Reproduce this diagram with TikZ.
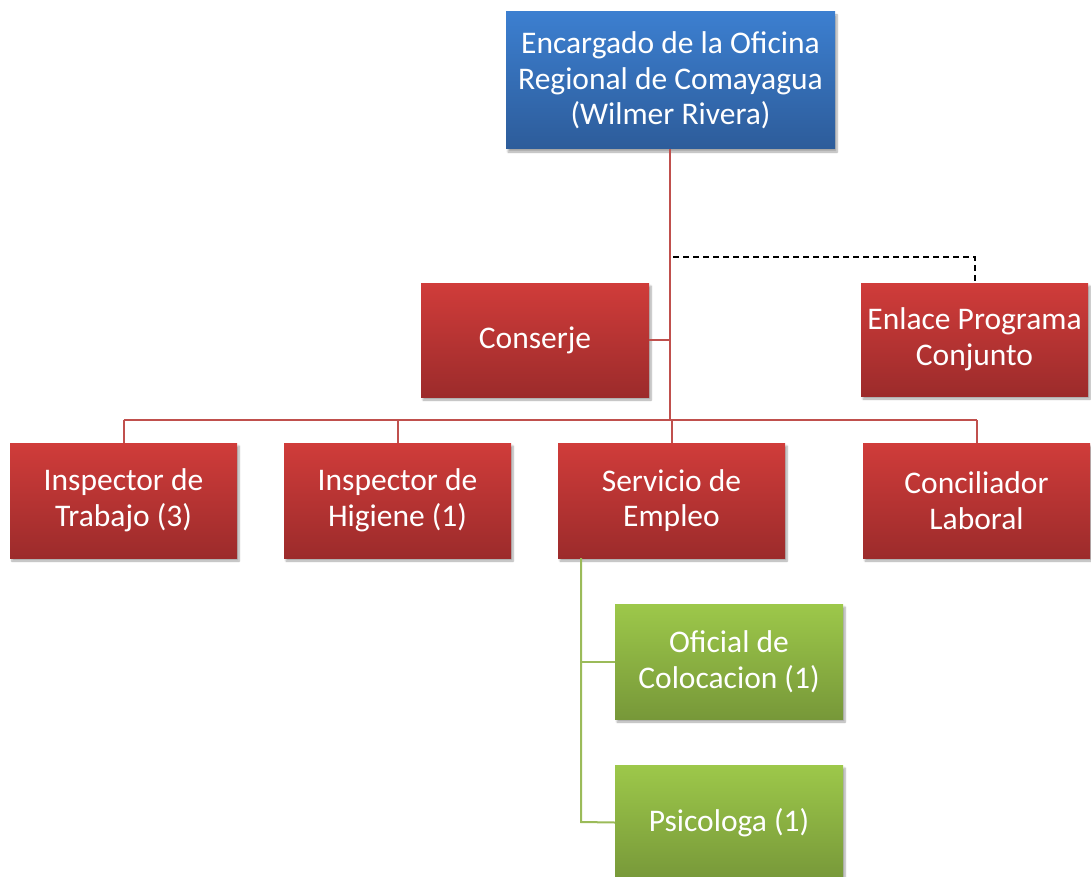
\documentclass[tikz,border=0pt]{standalone}
\usepackage{fontspec}
\setmainfont{Carlito}
\usetikzlibrary{shadows.blur}
\definecolor{redtop}{HTML}{D03C3A}
\definecolor{redbot}{HTML}{9C2B2B}
\definecolor{bluetop}{HTML}{3C7FD0}
\definecolor{bluebot}{HTML}{2D5C9A}
\definecolor{greentop}{HTML}{9DC84A}
\definecolor{greenbot}{HTML}{779839}
\definecolor{redline}{HTML}{C0504D}
\definecolor{greenline}{HTML}{9BBB59}
\tikzset{
  orgbox/.style={rectangle, inner sep=0pt, minimum width=228pt, minimum height=115pt,
    text=white, align=center, font=\fontsize{31.5}{35.5}\selectfont,
    blur shadow={shadow xshift=2pt, shadow yshift=-3pt, shadow blur steps=6, shadow opacity=35}},
  redbox/.style={orgbox, top color=redtop, bottom color=redbot},
  bluebox/.style={orgbox, top color=bluetop, bottom color=bluebot},
  greenbox/.style={orgbox, top color=greentop, bottom color=greenbot},
  redlink/.style={draw=redline, line width=2pt},
  greenlink/.style={draw=greenline, line width=2pt},
  dashlink/.style={draw=black, line width=1.8pt, dash pattern=on 6pt off 4pt}
}
\begin{document}
\begin{tikzpicture}[x=1pt,y=-1pt]
\useasboundingbox (0,0) rectangle (1091,877);
\coordinate (hub) at (670,420);
\coordinate (cj) at (670,340);
\coordinate (dl) at (673,257);
\coordinate (dr) at (975,257);
\coordinate (hl) at (123.5,420);
\coordinate (hr) at (976.5,420);
\coordinate (g0) at (581,558);
\coordinate (g1) at (581,661.5);
\coordinate (g2) at (581,822);

\node[bluebox, minimum width=329pt, minimum height=137pt] (top) at (670.5,80.5)
  {Encargado de la Oficina\\Regional de Comayagua\\(Wilmer Rivera)};
\node[redbox, minimum height=114pt] (con) at (535,340) {Conserje};
\node[redbox, minimum width=227pt, minimum height=113pt] (enl) at (974.5,339.5) {Enlace Programa\\Conjunto};
\node[redbox, minimum width=227pt] (it) at (123.5,500.5) {Inspector de\\Trabajo (3)};
\node[redbox, minimum width=227pt] (ih) at (397.5,500.5) {Inspector de\\Higiene (1)};
\node[redbox, minimum width=227pt] (se) at (671.5,500.5) {Servicio de\\Empleo};
\node[redbox, minimum width=227pt] (cl) at (976.5,500.5) {Conciliador\\Laboral};
\node[greenbox] (oc) at (729,661.5) {Oficial de\\Colocacion (1)};
\node[greenbox] (ps) at (729,822.5) {Psicologa (1)};

\draw[redlink] (top.south -| hub) -- (hub);
\draw[redlink] (con.east) -- (cj);
\draw[dashlink] (dl) -- (dr) -- (enl.north -| dr);
\draw[redlink] (hl) -- (hr);
\draw[redlink] (hl) -- (it.north);
\draw[redlink] (ih.north |- hub) -- (ih.north);
\draw[redlink] (se.north |- hub) -- (se.north);
\draw[redlink] (hr) -- (cl.north);
\draw[greenlink] (g0) -- (g2) -- (ps.west);
\draw[greenlink] (g1) -- (oc.west);
\end{tikzpicture}
\end{document}
